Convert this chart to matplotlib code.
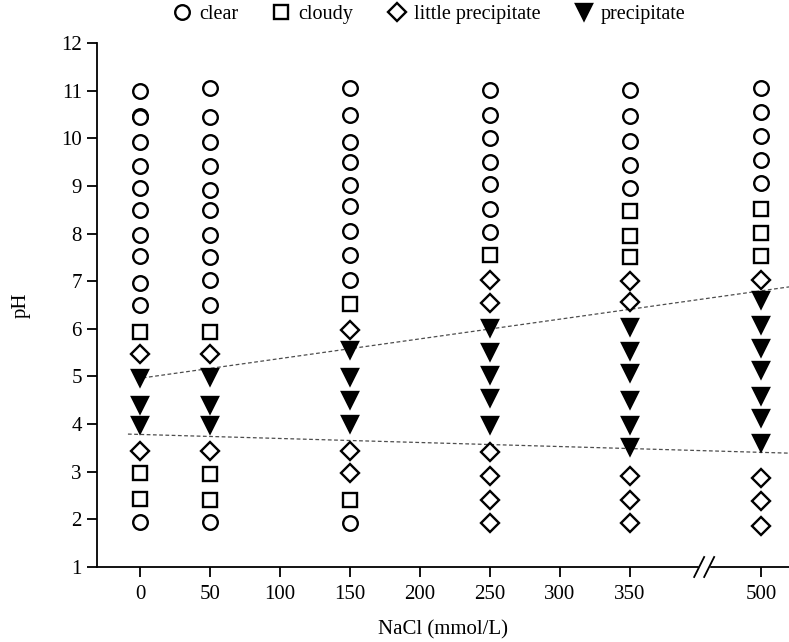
import matplotlib
matplotlib.use("Agg")
import matplotlib.pyplot as plt

plt.rcParams["font.family"] = ["Liberation Serif", "DejaVu Serif"]

# NaCl columns (mmol/L); 500 sits after an axis break
NACL_TICKS = [0, 50, 100, 150, 200, 250, 300, 350, 500]
BREAK_POS = 403.0     # where the "//" sits on the drawn axis
POS_500 = 443.6       # drawn position of the 500 column

# observed state per (NaCl, pH)
clear_nacl = [0] * 12 + [50] * 11 + [150] * 10 + [250] * 7 + [350] * 5 + [500] * 5
clear_ph = [11.0, 10.46, 10.44, 9.92, 9.42, 8.95, 8.5, 7.97, 7.52, 6.97, 6.5, 1.95,
            11.05, 10.45, 9.92, 9.42, 8.92, 8.5, 7.97, 7.5, 7.02, 6.5, 1.95,
            11.05, 10.48, 9.93, 9.5, 9.02, 8.58, 8.05, 7.55, 7.03, 1.93,
            11.02, 10.48, 10.0, 9.5, 9.03, 8.52, 8.03,
            11.02, 10.47, 9.95, 9.44, 8.95,
            11.05, 10.55, 10.05, 9.55, 9.07]

cloudy_nacl = [0] * 3 + [50] * 3 + [150] * 2 + [250] + [350] * 3 + [500] * 3
cloudy_ph = [5.93, 2.97, 2.43,
             5.93, 2.95, 2.41,
             6.52, 2.41,
             7.55,
             8.47, 7.95, 7.5,
             8.52, 8.02, 7.52]

little_nacl = [0] * 2 + [50] * 2 + [150] * 3 + [250] * 6 + [350] * 5 + [500] * 4
little_ph = [5.47, 3.43,
             5.47, 3.43,
             5.97, 3.43, 2.97,
             7.03, 6.55, 3.42, 2.92, 2.41, 1.93,
             7.01, 6.57, 2.9, 2.41, 1.92,
             7.02, 2.86, 2.38, 1.86]

precip_nacl = [0] * 3 + [50] * 3 + [150] * 4 + [250] * 5 + [350] * 6 + [500] * 7
precip_ph = [4.97, 4.4, 3.98,
             4.98, 4.4, 3.98,
             5.55, 4.98, 4.5, 4.0,
             6.02, 5.52, 5.04, 4.55, 3.98,
             6.04, 5.53, 5.07, 4.5, 3.98, 3.52,
             6.6, 6.07, 5.6, 5.13, 4.6, 4.12, 3.6]

# dashed boundary lines, given as (drawn x, pH) end points
upper_x, upper_ph = [2, 463.6], [4.97, 6.88]
lower_x, lower_ph = [-8.6, 463.6], [3.79, 3.39]


def pos(v):
    return POS_500 if v == 500 else v


fig = plt.figure(figsize=(7.89, 6.42), dpi=100)
ax = fig.add_axes([97 / 789, 1 - 567 / 642, 1 - 97 / 789, 524 / 642])

ax.plot(upper_x, upper_ph, color="0.3", lw=0.9, dashes=(3, 2), zorder=1)
ax.plot(lower_x, lower_ph, color="0.3", lw=0.9, dashes=(3, 2), zorder=1)

mk = dict(ls="none", mec="black", mew=1.7, zorder=3)
series = [
    ("clear", clear_nacl, clear_ph, dict(marker="o", ms=10.5, mfc="white")),
    ("cloudy", cloudy_nacl, cloudy_ph, dict(marker="s", ms=10, mfc="white")),
    ("little precipitate", little_nacl, little_ph, dict(marker="D", ms=9, mfc="white")),
    ("precipitate", precip_nacl, precip_ph, dict(marker="v", ms=11, mfc="black")),
]
handles = []
for label, xs, ys, style in series:
    h, = ax.plot([pos(v) for v in xs], ys, label=label, **mk, **style)
    handles.append(h)

ax.set_xlim(-30.7, 463.6)
ax.set_ylim(1, 12)
ax.set_xticks([pos(v) for v in NACL_TICKS])
ax.set_xticklabels([str(v) for v in NACL_TICKS])
ax.set_yticks(range(1, 13))
ax.tick_params(direction="out", length=7, width=1.3, labelsize=15, pad=4)
ax.tick_params(axis="x", pad=6)
ax.spines[["top", "right"]].set_visible(False)
for s in ("left", "bottom"):
    ax.spines[s].set_linewidth(1.3)

ax.set_xlabel("NaCl (mmol/L)", fontsize=15, labelpad=12)
ax.set_ylabel("pH", fontsize=15, labelpad=22)

# axis break "//"
tr = ax.get_xaxis_transform()
px = 50 / 70.0   # data units per pixel
py = 1 / 524.0   # axes fraction per pixel
ax.fill_between([BREAK_POS - 5 * px, BREAK_POS + 5 * px], -3 * py, 3 * py,
                color="white", transform=tr, clip_on=False, zorder=4)
for off in (-5, 5):
    x0 = BREAK_POS + off * px
    ax.plot([x0 - 5 * px, x0 + 5 * px], [-10 * py, 10 * py], color="black",
            lw=1.3, transform=tr, clip_on=False, zorder=5)

fig.legend(handles=handles, loc="upper center", bbox_to_anchor=(0.542, 1.02),
           ncol=4, frameon=False, fontsize=14.5, handletextpad=0.25,
           columnspacing=1.55, handlelength=1.2)

fig.savefig("out.png", dpi=100)
